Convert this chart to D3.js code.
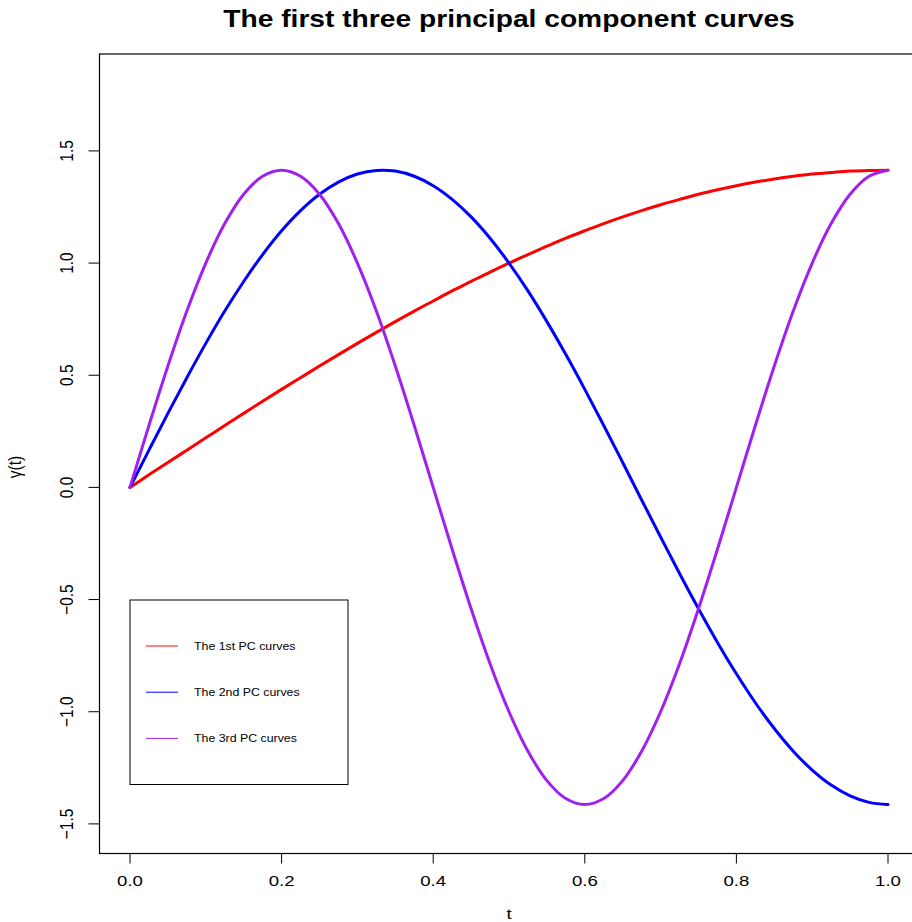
<!DOCTYPE html>
<html>
<head>
<meta charset="utf-8">
<script src="https://cdn.jsdelivr.net/npm/d3@7"></script>
<style>
  html, body { margin: 0; padding: 0; background: #fff; }
  svg { display: block; font-family: "Liberation Sans", Arial, Helvetica, sans-serif; }
</style>
</head>
<body>
<svg id="chart" width="912" height="922"></svg>
<script>
// ---- data ----
const tValues = d3.range(0, 41).map(i => +(i * 0.025).toFixed(3));
const pc1 = [0, 0.056, 0.111, 0.166, 0.221, 0.276, 0.330, 0.384, 0.437, 0.489, 0.541, 0.592, 0.642, 0.691, 0.739, 0.786, 0.831, 0.876, 0.918, 0.960, 1.000, 1.038, 1.075, 1.111, 1.144, 1.176, 1.206, 1.234, 1.260, 1.284, 1.307, 1.327, 1.345, 1.361, 1.375, 1.387, 1.397, 1.404, 1.410, 1.413, 1.414];
const pc2 = [0, 0.166, 0.330, 0.489, 0.642, 0.786, 0.918, 1.038, 1.144, 1.234, 1.307, 1.361, 1.397, 1.413, 1.410, 1.387, 1.345, 1.284, 1.206, 1.111, 1.000, 0.876, 0.739, 0.592, 0.437, 0.276, 0.111, -0.056, -0.221, -0.384, -0.541, -0.691, -0.831, -0.960, -1.075, -1.176, -1.260, -1.327, -1.375, -1.404, -1.414];
const pc3 = [0, 0.276, 0.541, 0.786, 1.000, 1.176, 1.307, 1.387, 1.414, 1.387, 1.307, 1.176, 1.000, 0.786, 0.541, 0.276, 0, -0.276, -0.541, -0.786, -1.000, -1.176, -1.307, -1.387, -1.414, -1.387, -1.307, -1.176, -1.000, -0.786, -0.541, -0.276, 0, 0.276, 0.541, 0.786, 1.000, 1.176, 1.307, 1.387, 1.414];
const seriesNames = ["The 1st PC curves", "The 2nd PC curves", "The 3rd PC curves"];
const seriesColors = ["#FF0000", "#0000FF", "#A020F0"];
const xTicks = [0.0, 0.2, 0.4, 0.6, 0.8, 1.0];
const yTicks = [-1.5, -1.0, -0.5, 0.0, 0.5, 1.0, 1.5];
const titleText = "The first three principal component curves";
const xLabel = "t";
const yLabel = "γ(t)";

// ---- layout ----
const SX = 1.2; // horizontal text stretch of the reference
const svg = d3.select("#chart");
const x = d3.scaleLinear().domain([0, 1]).range([130, 888]);
const y = d3.scaleLinear().domain([-1.632, 1.932]).range([853.5, 54]);
const box = { left: 99.5, right: 918.5, top: 54, bottom: 853.5 };

function stretchedText(g, tx, ty, txt, size, weight, rotate) {
  return g.append("text")
    .attr("transform", `translate(${tx},${ty}) scale(${SX},1)` + (rotate ? " rotate(-90)" : ""))
    .attr("text-anchor", "middle")
    .style("font-size", size + "px")
    .style("font-weight", weight || "normal")
    .attr("fill", "#000")
    .text(txt);
}

// title
stretchedText(svg, (box.left + box.right) / 2, 27, titleText, 23.5, "bold");

// curves
const series = [pc1, pc2, pc3];
const line = d3.line().x(d => x(d[0])).y(d => y(d[1])).curve(d3.curveCatmullRom.alpha(0.5));
series.forEach((vals, i) => {
  svg.append("path")
    .datum(tValues.map((t, j) => [t, vals[j]]))
    .attr("d", line)
    .attr("fill", "none")
    .attr("stroke", seriesColors[i])
    .attr("stroke-width", 3)
    .attr("stroke-linejoin", "round")
    .attr("stroke-linecap", "round");
});

// box
svg.append("rect")
  .attr("x", box.left).attr("y", box.top)
  .attr("width", box.right - box.left).attr("height", box.bottom - box.top)
  .attr("fill", "none").attr("stroke", "#000").attr("stroke-width", 1.2);

// x axis
const xAxis = svg.append("g");
xTicks.forEach(v => {
  xAxis.append("line")
    .attr("x1", x(v)).attr("x2", x(v))
    .attr("y1", box.bottom).attr("y2", box.bottom + 10)
    .attr("stroke", "#000").attr("stroke-width", 1);
  stretchedText(xAxis, x(v), 886, d3.format(".1f")(v), 15.5);
});

// y axis
const yAxis = svg.append("g");
yTicks.forEach(v => {
  yAxis.append("line")
    .attr("x1", box.left - 11).attr("x2", box.left)
    .attr("y1", y(v)).attr("y2", y(v))
    .attr("stroke", "#000").attr("stroke-width", 1);
  stretchedText(yAxis, 73, y(v), d3.format(".1f")(v).replace("-", "\u2212"), 15.5, "normal", true);
});

// axis titles
stretchedText(svg, (box.left + box.right) / 2, 919, xLabel, 15.5);
stretchedText(svg, 21, 467, yLabel, 15.5, "normal", true);

// legend
const legend = svg.append("g");
legend.append("rect")
  .attr("x", 130).attr("y", 600).attr("width", 218).attr("height", 184.5)
  .attr("fill", "#fff").attr("stroke", "#000").attr("stroke-width", 1);
seriesNames.forEach((name, i) => {
  const ly = 646 + i * 46.2;
  legend.append("line")
    .attr("x1", 146).attr("x2", 178).attr("y1", ly).attr("y2", ly)
    .attr("stroke", seriesColors[i]).attr("stroke-width", 1);
  legend.append("text")
    .attr("transform", `translate(194,${ly + 3.5}) scale(${SX},1)`)
    .style("font-size", "10.3px")
    .attr("fill", "#000")
    .text(name);
});
</script>
</body>
</html>
